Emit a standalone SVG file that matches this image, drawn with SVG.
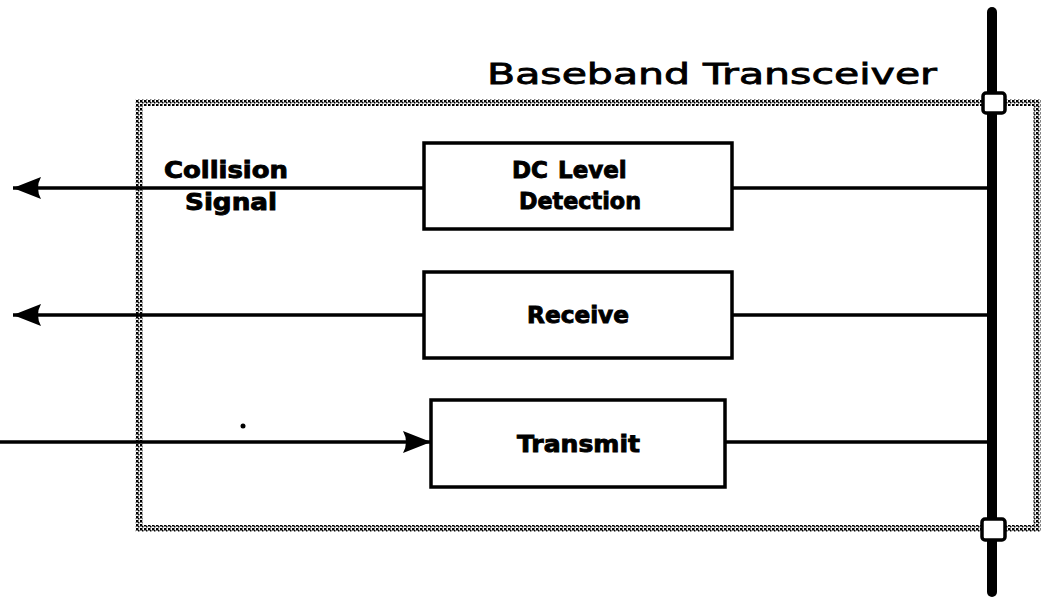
<svg xmlns="http://www.w3.org/2000/svg" width="1045" height="597" viewBox="0 0 1045 597">
  <defs>
    <pattern id="dots" patternUnits="userSpaceOnUse" width="4" height="4">
      <rect x="0" y="0" width="2.5" height="2.5" fill="#000"/>
      <rect x="2" y="2" width="1.5" height="1.5" fill="#000"/>
    </pattern>
    <marker id="arrow" viewBox="0 0 28 22" refX="28" refY="11" markerWidth="28" markerHeight="22" markerUnits="userSpaceOnUse" orient="auto">
      <path d="M0,0 Q6,11 0,22 L28,11 Z" fill="#000"/>
    </marker>
  </defs>
  <style>
    .box { fill: #fff; stroke: #000; stroke-width: 3.5; }
    .lbl { font-family: "DejaVu Sans", "Liberation Sans", sans-serif; font-weight: bold; font-size: 23px; fill: #000; stroke: #000; stroke-width: 0.9; }
    .wire { stroke: #000; stroke-width: 3.5; fill: none; }
    .port { fill: #fff; stroke: #000; stroke-width: 3.5; }
  </style>
  <rect width="1045" height="597" fill="#fff"/>

  <g id="boundary">
    <rect x="139" y="102.5" width="898" height="426" fill="none" stroke="url(#dots)" stroke-width="7"/>
  </g>

  <g id="title">
    <text x="487" y="84" font-family="DejaVu Sans, Liberation Sans, sans-serif" font-size="29" stroke="#000" stroke-width="0.8" textLength="450" lengthAdjust="spacingAndGlyphs">Baseband Transceiver</text>
  </g>

  <g id="connectors">
    <line class="wire" x1="424" y1="188" x2="13" y2="188" marker-end="url(#arrow)"/>
    <line class="wire" x1="732" y1="188" x2="992" y2="188"/>
    <line class="wire" x1="424" y1="315" x2="13" y2="315" marker-end="url(#arrow)"/>
    <line class="wire" x1="732" y1="315" x2="992" y2="315"/>
    <line class="wire" x1="0" y1="442" x2="431" y2="442" marker-end="url(#arrow)"/>
    <line class="wire" x1="725" y1="442" x2="992" y2="442"/>
  </g>

  <g id="collision-label">
    <text class="lbl" x="164" y="178" textLength="124" lengthAdjust="spacingAndGlyphs">Collision</text>
    <text class="lbl" x="185" y="210" textLength="92" lengthAdjust="spacingAndGlyphs">Signal</text>
  </g>

  <g id="dc-level-detection">
    <rect class="box" x="424" y="143" width="308" height="86"/>
    <text class="lbl" y="178"><tspan x="512">DC</tspan><tspan x="558">Level</tspan></text>
    <text class="lbl" x="519" y="209" textLength="122" lengthAdjust="spacingAndGlyphs">Detection</text>
  </g>

  <g id="receive">
    <rect class="box" x="424" y="272" width="308" height="86"/>
    <text class="lbl" x="527" y="323" textLength="102" lengthAdjust="spacingAndGlyphs">Receive</text>
  </g>

  <g id="transmit">
    <rect class="box" x="431" y="400" width="294" height="87"/>
    <text class="lbl" x="517" y="452" textLength="123" lengthAdjust="spacingAndGlyphs">Transmit</text>
  </g>

  <g id="bus">
    <line x1="992" y1="12" x2="992" y2="592" stroke="#000" stroke-width="10" stroke-linecap="round"/>
    <rect class="port" x="983" y="93" width="22" height="20" rx="3"/>
    <rect class="port" x="982" y="519" width="23" height="21" rx="3"/>
  </g>

  <circle cx="243" cy="426" r="2.5" fill="#000"/>
</svg>
